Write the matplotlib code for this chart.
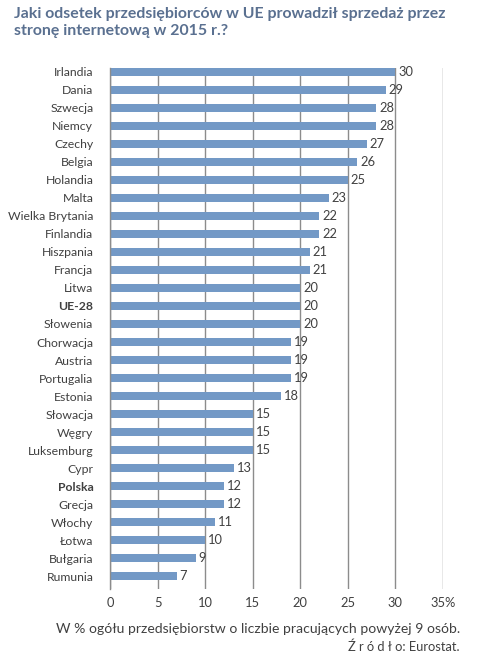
import matplotlib
matplotlib.use("Agg")
import matplotlib.pyplot as plt

countries = ["Irlandia", "Dania", "Szwecja", "Niemcy", "Czechy", "Belgia", "Holandia",
             "Malta", "Wielka Brytania", "Finlandia", "Hiszpania", "Francja", "Litwa",
             "UE-28", "Słowenia", "Chorwacja", "Austria", "Portugalia", "Estonia",
             "Słowacja", "Węgry", "Luksemburg", "Cypr", "Polska", "Grecja", "Włochy",
             "Łotwa", "Bułgaria", "Rumunia"]
values = [30, 29, 28, 28, 27, 26, 25, 23, 22, 22, 21, 21, 20, 20, 20, 19, 19, 19, 18,
          15, 15, 15, 13, 12, 12, 11, 10, 9, 7]
bold_labels = ["UE-28", "Polska"]
x_ticks = [0, 5, 10, 15, 20, 25, 30, 35]
x_tick_labels = ["0", "5", "10", "15", "20", "25", "30", "35%"]

plt.rcParams["font.family"] = ["Lato", "DejaVu Sans"]

bar_color = "#7399C6"
grid_color = "#8C8C8C"
text_color = "#404040"
title_color = "#5A7090"

fig = plt.figure(figsize=(4.87, 6.64), dpi=100)
n = len(countries)
top_px, bottom_px = 68, 589
ax = fig.add_axes([110 / 487, (664 - bottom_px) / 664, 333 / 487, (bottom_px - top_px) / 664])

pos = list(range(n))
ax.barh(pos, values, height=0.4, color=bar_color, zorder=2)
for p, v in zip(pos, values):
    ax.text(v + 0.3, p, str(v), va="center", ha="left", fontsize=9.3, color=text_color, zorder=3)

ax.set_xlim(0, 35)
ax.set_ylim(n - 1 + 0.72, -0.22)
ax.set_xticks(x_ticks)
ax.set_xticklabels(x_tick_labels)
ax.set_yticks(pos)
ax.set_yticklabels(countries)
for lab in ax.get_yticklabels():
    if lab.get_text() in bold_labels:
        lab.set_fontweight("bold")

ax.tick_params(axis="y", length=0, labelsize=8.8, colors=text_color, pad=12)
ax.tick_params(axis="x", length=0, labelsize=9.3, colors=text_color, pad=6)
ax.xaxis.grid(True, color=grid_color, linewidth=1, zorder=0)
ax.set_axisbelow(True)
for side in ["top", "right", "bottom"]:
    ax.spines[side].set_visible(False)
ax.spines["left"].set_color(grid_color)
ax.spines["left"].set_linewidth(1)

fig.text(14 / 487, 1 - 7 / 664, "Jaki odsetek przedsiębiorców w UE prowadził sprzedaż przez\nstronę internetową w 2015 r.?",
         ha="left", va="top", fontsize=11.4, fontweight="bold", color=title_color, linespacing=1.25)
fig.text(460 / 487, 1 - 629 / 664, "W % ogółu przedsiębiorstw o liczbie pracujących powyżej 9 osób.",
         ha="right", va="center", fontsize=10.1, color=text_color)
fig.text(460 / 487, 1 - 647 / 664, "Ź r ó d ł o: Eurostat.",
         ha="right", va="center", fontsize=9.3, color=text_color)

fig.savefig("out.png", dpi=100)
